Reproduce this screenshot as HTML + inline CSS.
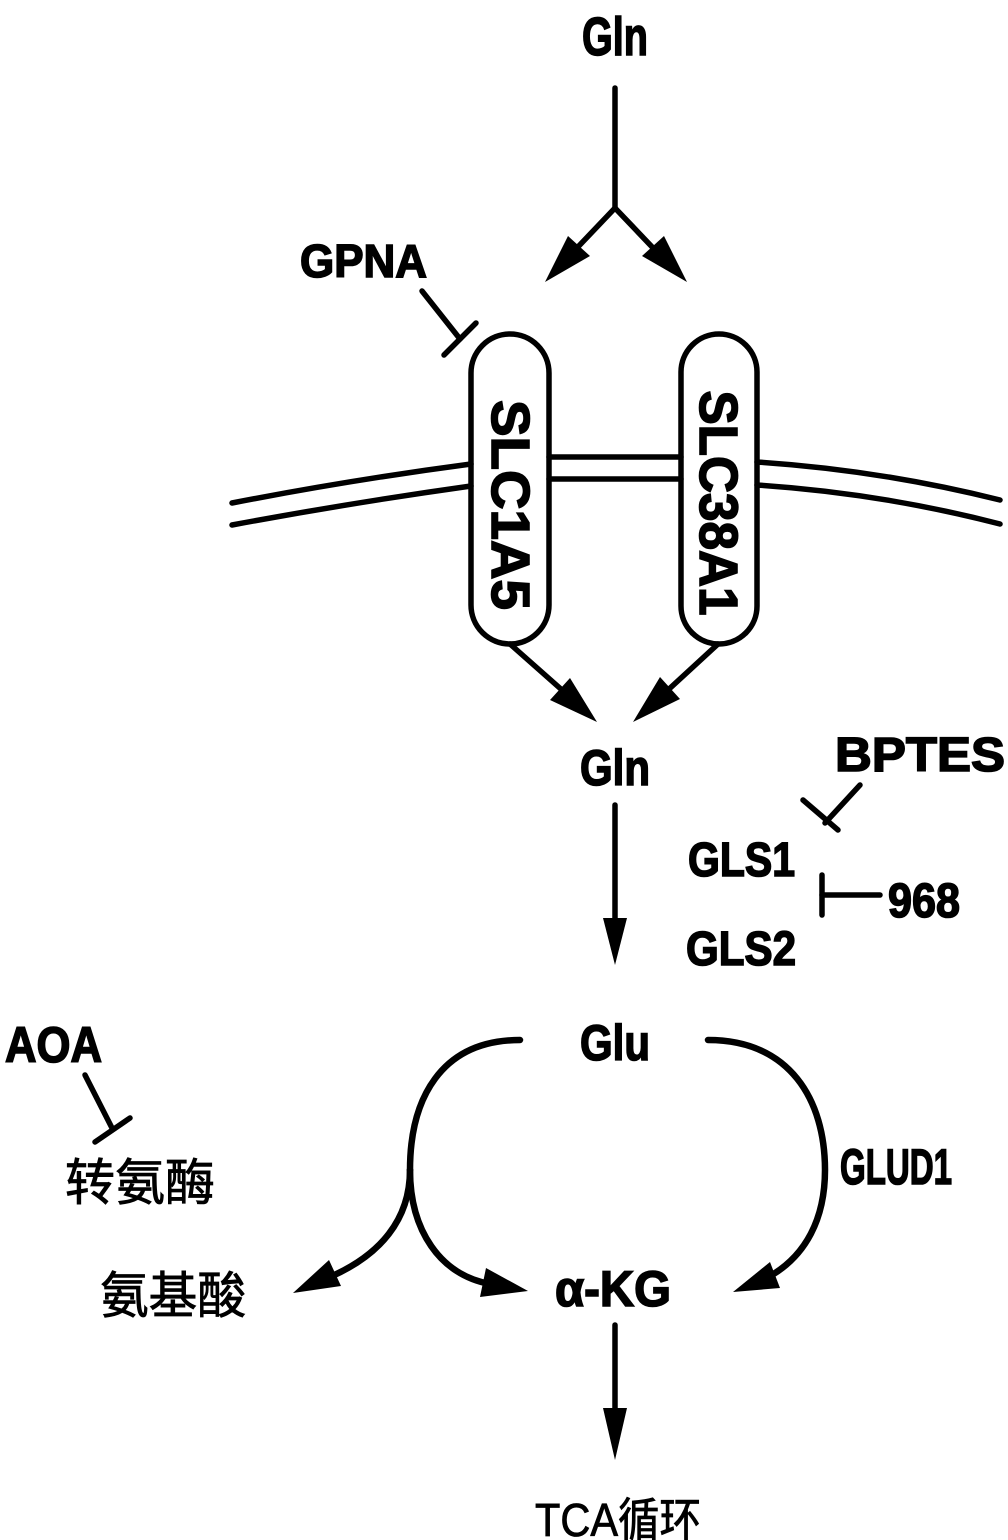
<!DOCTYPE html>
<html><head><meta charset="utf-8"><style>
html,body{margin:0;padding:0;background:#fff;}
svg{display:block;}
.b{font-family:"Liberation Sans","Noto Sans CJK SC",sans-serif;font-weight:bold;fill:#000;stroke:#000;stroke-width:1.6;}
.c{font-family:"Liberation Sans","Noto Sans CJK SC",sans-serif;fill:#000;stroke:#000;stroke-width:0.8;}
</style></head><body>
<svg width="1008" height="1540" viewBox="0 0 1008 1540" xmlns="http://www.w3.org/2000/svg">
<g stroke="#000" stroke-width="5.5" fill="none" stroke-linecap="round">
<line x1="615" y1="88" x2="615" y2="208"/>
<line x1="615" y1="208" x2="575" y2="250"/>
<line x1="615" y1="208" x2="655" y2="250"/>
<line x1="422" y1="291" x2="460" y2="339"/>
<line x1="444" y1="355" x2="476" y2="323"/>
<rect x="471" y="334" width="78" height="310" rx="39" ry="39"/>
<rect x="681" y="334" width="76" height="310" rx="38" ry="38"/>
<path d="M232,503 Q350,480 471,464"/>
<path d="M232,525 Q350,503 471,486"/>
<line x1="549" y1="457" x2="681" y2="457"/>
<line x1="549" y1="479" x2="681" y2="479"/>
<path d="M757,462 Q880,470 1000,500"/>
<path d="M757,485 Q880,493 1000,524"/>
<line x1="510" y1="644" x2="562" y2="690"/>
<line x1="718" y1="644" x2="668" y2="690"/>
<line x1="615" y1="805" x2="615" y2="925"/>
<line x1="860" y1="785" x2="825" y2="823"/>
<line x1="803" y1="800" x2="838" y2="830"/>
<line x1="822" y1="895" x2="880" y2="895"/>
<line x1="822" y1="875" x2="822" y2="915"/>
<line x1="85" y1="1075" x2="112" y2="1128"/>
<line x1="95" y1="1142" x2="130" y2="1118"/>
<line x1="615" y1="1325" x2="615" y2="1415"/>
</g>
<g stroke="#000" stroke-width="6.5" fill="none" stroke-linecap="round">
<path d="M520,1040 C440,1040 410,1100 410,1170"/>
<path d="M410,1170 C410,1220 380,1255 330,1277"/>
<path d="M410,1170 C410,1230 440,1275 490,1284"/>
<path d="M708,1040 C790,1040 825,1100 825,1170 C825,1220 805,1255 772,1275"/>
</g>
<g fill="#000">
<polygon points="545,282 590,256 568,236"/>
<polygon points="687,282 642,256 664,236"/>
<polygon points="597,722 550,700 570,678"/>
<polygon points="633,722 680,699 660,677"/>
<polygon points="615,965 603,918 627,918"/>
<polygon points="615,1460 603,1408 627,1408"/>
<polygon points="293,1293 341,1286 329,1260"/>
<polygon points="528,1291 480,1297 486,1268"/>
<polygon points="733,1292 780,1288 770,1262"/>
</g>
<text class="b" x="582" y="55" font-size="54" textLength="66" lengthAdjust="spacingAndGlyphs">Gln</text>
<text class="b" x="300" y="277" font-size="46" textLength="127" lengthAdjust="spacingAndGlyphs">GPNA</text>
<text class="b" transform="translate(492,505) rotate(90)" text-anchor="middle" font-size="54" textLength="210" lengthAdjust="spacingAndGlyphs">SLC1A5</text>
<text class="b" transform="translate(700,503) rotate(90)" text-anchor="middle" font-size="54" textLength="225" lengthAdjust="spacingAndGlyphs">SLC38A1</text>
<text class="b" x="580" y="785" font-size="50" textLength="70" lengthAdjust="spacingAndGlyphs">Gln</text>
<text class="b" x="835" y="771" font-size="48" textLength="170" lengthAdjust="spacingAndGlyphs">BPTES</text>
<text class="b" x="688" y="876" font-size="48" textLength="107" lengthAdjust="spacingAndGlyphs">GLS1</text>
<text class="b" x="888" y="917" font-size="48" textLength="72" lengthAdjust="spacingAndGlyphs">968</text>
<text class="b" x="686" y="965" font-size="48" textLength="110" lengthAdjust="spacingAndGlyphs">GLS2</text>
<text class="b" x="580" y="1060" font-size="50" textLength="70" lengthAdjust="spacingAndGlyphs">Glu</text>
<text class="b" x="5" y="1062" font-size="50" textLength="97" lengthAdjust="spacingAndGlyphs">AOA</text>
<text class="c" x="65" y="1200" font-size="50" textLength="150" lengthAdjust="spacingAndGlyphs">转氨酶</text>
<text class="b" x="840" y="1184" font-size="50" textLength="112" lengthAdjust="spacingAndGlyphs">GLUD1</text>
<text class="c" x="100" y="1313" font-size="50" textLength="146" lengthAdjust="spacingAndGlyphs">氨基酸</text>
<text class="b" x="555" y="1306" font-size="50" textLength="116" lengthAdjust="spacingAndGlyphs">α-KG</text>
<text class="c" x="535" y="1536" font-size="46" textLength="166" lengthAdjust="spacingAndGlyphs">TCA循环</text>
</svg>
</body></html>
